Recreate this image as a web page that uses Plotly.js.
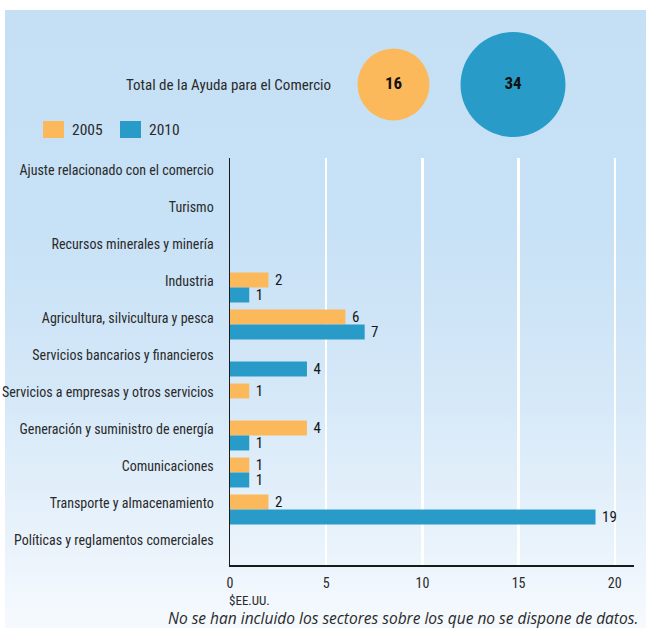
<!DOCTYPE html>
<html>
<head>
<meta charset="utf-8">
<script src="https://cdn.plot.ly/plotly-3.0.1.min.js"></script>
<style>
  html, body { margin: 0; padding: 0; background: #ffffff; }
  #bg { position: absolute; left: 5px; top: 10px; width: 641px; height: 618px;
        background: linear-gradient(to bottom, #c5e0f5 0%, #c7e1f6 35%, #d5e8f8 62%, #e8f2fb 85%, #f6fafe 100%); }
  #chart { position: absolute; left: 0; top: 0; width: 646px; height: 628px; }
</style>
</head>
<body>
<div id="bg"></div>
<div id="chart"></div>
<script>
// ---- data ----
const categories = [
  "Ajuste relacionado con el comercio",
  "Turismo",
  "Recursos minerales y minería",
  "Industria",
  "Agricultura, silvicultura y pesca",
  "Servicios bancarios y financieros",
  "Servicios a empresas y otros servicios",
  "Generación y suministro de energía",
  "Comunicaciones",
  "Transporte y almacenamiento",
  "Políticas y reglamentos comerciales"
];
const values2005 = [0, 0, 0, 2, 6, 0, 1, 4, 1, 2, 0];
const values2010 = [0, 0, 0, 1, 7, 4, 0, 1, 1, 19, 0];
const seriesNames = ["2005", "2010"];
const totalLabel = "Total de la Ayuda para el Comercio";
const totals = [16, 34];
const xTicks = [0, 5, 10, 15, 20];
const unitLabel = "$EE.UU.";
const footnote = "No se han incluido los sectores sobre los que no se dispone de datos.";

// ---- style ----
const colors = ["#fcb95b", "#299bc8"];
const NARROW = "Roboto Condensed, sans-serif";
const txtColor = "#2a2a2a";

const W = 646, H = 628;
const M = {l: 230, r: 12, t: 10, b: 63};
const pw = W - M.l - M.r, ph = H - M.t - M.b;
const px = x => (x - M.l) / pw;
const py = y => (H - M.b - y) / ph;

const GAP = "\u00a0";
const labelText = arr => arr.map(v => v > 0 ? GAP + String(v) : "");

const barCommon = {
  type: "bar", orientation: "h", y: categories,
  textposition: "outside", cliponaxis: false, constraintext: "none",
  textfont: {family: NARROW, size: 15, color: "#151515"},
  hoverinfo: "x+y", showlegend: false
};

const traces = [
  Object.assign({}, barCommon, {name: seriesNames[0], x: values2005, text: labelText(values2005), marker: {color: colors[0]}}),
  Object.assign({}, barCommon, {name: seriesNames[1], x: values2010, text: labelText(values2010), marker: {color: colors[1]}}),
  {
    type: "scatter", mode: "markers+text", xaxis: "x2", yaxis: "y2",
    x: [0, 1], y: [0, 0], cliponaxis: false,
    text: totals.map(v => "<b>" + v + "</b>"),
    textposition: "middle center",
    textfont: {family: NARROW, size: 17, color: "#111"},
    marker: {size: totals.map(v => 18 * Math.sqrt(v)), color: colors, line: {width: 0}, opacity: 1},
    showlegend: false, hoverinfo: "text"
  }
];

const shapes = [];
const annotations = [];
// legend squares + labels
const legX = [43, 120];
seriesNames.forEach((n, i) => {
  shapes.push({type: "rect", xref: "paper", yref: "paper",
    x0: px(legX[i]), x1: px(legX[i] + 21), y0: py(138), y1: py(121),
    fillcolor: colors[i], line: {width: 0}});
  annotations.push({xref: "paper", yref: "paper", x: px(legX[i] + 27), y: py(130),
    xanchor: "left", yanchor: "middle", showarrow: false, text: n,
    font: {family: NARROW, size: 15.5, color: txtColor}});
});
annotations.push({xref: "paper", yref: "paper", x: px(333), y: py(85),
  xanchor: "right", yanchor: "middle", showarrow: false, text: totalLabel,
  font: {family: NARROW, size: 15, color: txtColor}});
annotations.push({xref: "paper", yref: "paper", x: px(227), y: py(600),
  xanchor: "left", yanchor: "middle", showarrow: false, text: unitLabel,
  font: {family: NARROW, size: 13, color: txtColor}});
annotations.push({xref: "paper", yref: "paper", x: px(640), y: py(618),
  xanchor: "right", yanchor: "middle", showarrow: false, text: "<i>" + footnote + "</i>",
  font: {family: "Open Sans, sans-serif", size: 15.5, color: txtColor}});

const layout = {
  width: W, height: H,
  margin: M,
  paper_bgcolor: "rgba(0,0,0,0)",
  plot_bgcolor: "rgba(0,0,0,0)",
  barmode: "group", bargap: 0.19, bargroupgap: 0,
  showlegend: false,
  xaxis: {
    range: [0, 21], tickvals: xTicks, ticktext: xTicks.map(String),
    showgrid: true, gridcolor: "#ffffff", gridwidth: 2.5,
    zeroline: false, showline: true, linecolor: "#1a1a1a", linewidth: 1.5,
    ticks: "", ticklabelstandoff: 5, tickfont: {family: NARROW, size: 14, color: txtColor},
    fixedrange: true
  },
  yaxis: {
    domain: [0, py(158)],
    type: "category", range: [10.5, -0.5],
    showgrid: false, zeroline: false, showline: true, linecolor: "#1a1a1a", linewidth: 1.5,
    ticks: "", ticklabelstandoff: 12, ticklabelshift: 6,
    tickfont: {family: NARROW, size: 14, color: txtColor},
    fixedrange: true
  },
  xaxis2: {
    anchor: "y2", domain: [px(333.75), px(572.75)], range: [-0.5, 1.5],
    visible: false, fixedrange: true
  },
  yaxis2: {
    anchor: "x2", domain: [py(84.5) - 0.05, py(84.5) + 0.05], range: [-1, 1],
    visible: false, fixedrange: true
  },
  shapes: shapes,
  annotations: annotations,
  font: {family: NARROW, color: txtColor}
};

Plotly.newPlot("chart", traces, layout, {displayModeBar: false, staticPlot: true});
</script>
</body>
</html>
